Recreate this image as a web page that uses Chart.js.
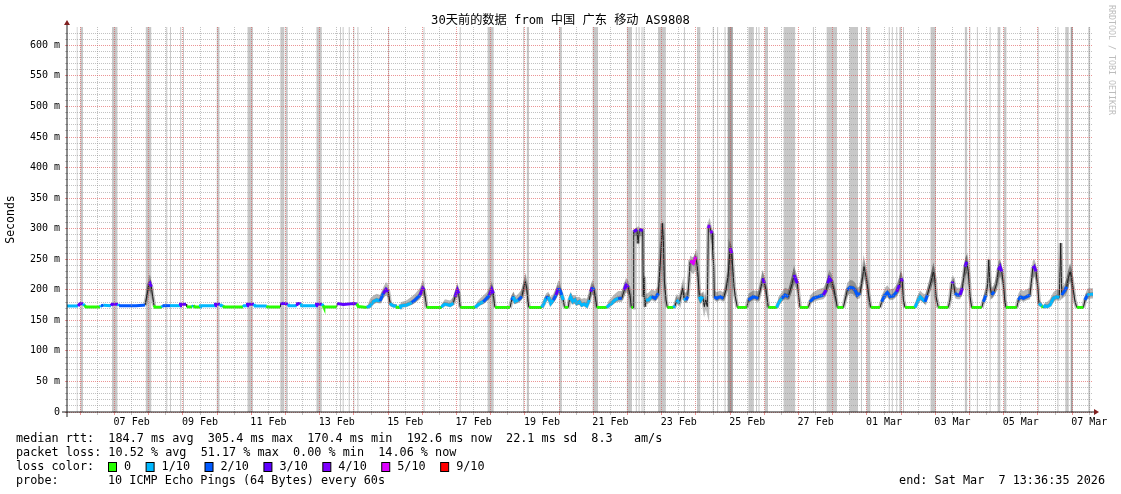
<!DOCTYPE html>
<html>
<head>
<meta charset="utf-8">
<script src="https://cdn.jsdelivr.net/npm/chart.js@4.4.1/dist/chart.umd.min.js"></script>
<style>
  html, body { margin: 0; padding: 0; background: #fff; }
</style>
</head>
<body>
<canvas id="smoke" width="1121" height="494"></canvas>
<script>
const MONO = "'DejaVu Sans Mono', 'Noto Sans CJK SC', monospace";

const titleText = '30天前的数据 from 中国 广东 移动 AS9808';

// x is in days counted from Feb 6 00:00 (graph runs Feb 5 13:36:35 -> Mar 7 13:36:35)
const startDay = -0.4337;
const endDay = 29.5663;
// rrdtool puts its day lines about an hour before the sample clock used here
const gridShift = -0.044;
const dateLabels = ['07 Feb', '09 Feb', '11 Feb', '13 Feb', '15 Feb', '17 Feb', '19 Feb', '21 Feb',
  '23 Feb', '25 Feb', '27 Feb', '01 Mar', '03 Mar', '05 Mar', '07 Mar'];
const dateLabelDays = [1.5, 3.5, 5.5, 7.5, 9.5, 11.5, 13.5, 15.5, 17.5, 19.5, 21.5, 23.5, 25.5, 27.5, 29.5];

const yMax = 630;
const yLabelValues = [0, 50, 100, 150, 200, 250, 300, 350, 400, 450, 500, 550, 600];
const yTickLabels = ['0', '50 m', '100 m', '150 m', '200 m', '250 m', '300 m', '350 m', '400 m',
  '450 m', '500 m', '550 m', '600 m'];

const lossLevels = [0, 1, 2, 3, 4, 5, 9];
const lossColors = ['#26ff00', '#00b8ff', '#0059ff', '#5e00ff', '#7e00ff', '#dd00ff', '#ff0000'];
const lossLabels = ['0', '1/10', '2/10', '3/10', '4/10', '5/10', '9/10'];

// median rtt: [day, ms, lost pings of 10, smoke below median (ms), smoke above median (ms)]
const medianPts = [
  [-0.433,173.5,1,0,0],[-0.111,173.5,1,0,0],[-0.053,177.5,3,0,1],[0.035,177,3,0,1],[0.079,174,1,0,0],
  [0.123,172,0,0,0],[0.532,172,0,0,0],[0.561,174,1,0,0],[0.635,174.5,2,0,0],[0.854,174,1,0,0],
  [0.883,176.5,3,0,1],[1.058,176.5,3,0,1],[1.088,174,1,0,0],[1.585,174,2,0,0],[1.789,174.5,2,0,1],
  [1.848,175,2,1,3],[1.915,194,3,8,12],[1.956,208,3,10,14],[1.994,210.5,3,12,14],[2.032,205,3,14,10],
  [2.073,189,2,10,6],[2.111,174.5,1,2,3],[2.140,171.5,0,0,0],[2.336,171.5,0,0,0],[2.360,174,1,0,0],
  [2.579,174,2,0,0],[2.871,174,1,0,0],[2.886,176.5,3,0,1],[3.047,176.5,3,0,1],[3.067,172,0,0,0],
  [3.222,172,0,0,0],[3.266,174,1,0,0],[3.310,172,0,0,0],[3.456,172,0,0,0],[3.471,174,1,0,0],
  [3.895,174,1,0,0],[3.909,176.5,3,0,1],[4.041,176.5,3,0,1],[4.070,174,1,0,0],[4.137,174,1,0,0],
  [4.158,172,0,0,0],[4.713,172,0,0,0],[4.743,174,1,0,0],[4.830,174,1,0,0],[4.845,176.5,3,0,1],
  [5.035,176.5,3,0,1],[5.064,173.5,1,0,0],[5.406,173.5,1,0,0],[5.430,172,0,0,0],[5.795,172,0,0,0],
  [5.810,177,3,0,1],[5.883,178,3,0,1],[6.029,176.5,3,0,1],[6.058,174,1,0,0],[6.284,174,1,0,0],
  [6.307,177.5,3,0,1],[6.401,177.5,3,0,1],[6.424,174,1,0,0],[6.848,174,1,0,0],[6.863,176.5,3,0,1],
  [7.015,176.5,3,0,1],[7.061,174,1,0,0],[7.076,172,0,0,0],[7.453,172,0,0,0],[7.471,177.5,3,0,1],
  [7.646,176,3,0,1],[7.939,177.5,3,0,1],[8.038,177,3,0,1],[8.085,172.5,0,0,0],[8.330,171,0,0,0],
  [8.427,173.5,1,1,12],[8.523,180.5,1,4,10],[8.623,183.3,1,5,10],[8.719,181.6,1,4,10],[8.816,194,2,8,10],
  [8.895,200.7,3,10,12],[8.962,197,3,10,10],[9.012,178,1,4,6],[9.061,175,1,2,4],[9.129,173.5,1,1,3],
  [9.208,173.5,1,1,2],[9.225,171,0,0,0],[9.304,171,0,0,0],[9.319,173.5,1,1,6],[9.500,175,1,2,8],
  [9.646,179,1,4,10],[9.743,183.3,2,5,10],[9.889,191.5,2,7,12],[9.968,202.4,3,10,14],[10.006,199.6,3,10,12],
  [10.050,185,1,6,8],[10.079,171,0,0,0],[10.523,171,0,0,0],[10.541,173.5,1,1,5],[10.620,176.7,1,2,8],
  [10.766,174.5,1,2,8],[10.863,178,1,3,10],[10.912,188.7,2,6,10],[10.980,199.6,3,10,12],[11.020,194.2,3,8,10],
  [11.044,180,1,5,6],[11.067,171,0,0,0],[11.497,171,0,0,0],[11.547,173.5,1,1,6],[11.643,177.8,1,3,8],
  [11.740,180.5,1,4,10],[11.839,186,2,5,10],[11.915,191.5,2,7,12],[11.985,200.7,3,10,13],[12.032,194.2,3,8,10],
  [12.061,178,1,4,6],[12.082,171,0,0,0],[12.520,171,0,0,0],[12.570,183.3,1,4,8],[12.617,188.7,2,6,8],
  [12.667,180.5,1,4,8],[12.763,183.3,1,5,10],[12.863,188.7,2,6,12],[12.930,205,3,10,12],[12.968,213.3,3,12,12],
  [13.009,202.4,3,10,10],[13.047,180,1,5,6],[13.076,171,0,0,0],[13.447,171,0,0,0],[13.515,177.8,1,3,8],
  [13.573,186,1,5,8],[13.640,188.7,2,6,8],[13.711,177.8,1,3,10],[13.787,183.3,1,5,10],[13.865,191.5,2,7,12],
  [13.933,202.4,3,10,13],[13.982,199.6,2,10,12],[14.032,191.5,2,8,8],[14.079,183.3,1,6,5],[14.114,171,0,0,0],
  [14.225,171,0,0,0],[14.254,183.3,1,5,8],[14.295,188.7,1,8,6],[14.354,180.5,1,5,10],[14.421,183.3,1,6,8],
  [14.471,177.8,1,4,10],[14.547,180.5,1,5,8],[14.617,175,1,3,10],[14.684,176.7,1,3,10],[14.763,173.5,1,2,12],
  [14.839,183.3,1,5,12],[14.880,197,2,10,12],[14.927,204,3,12,12],[14.977,199.6,2,10,10],[15.015,188.7,1,8,6],
  [15.056,171,0,0,0],[15.348,171,0,0,0],[15.395,173.5,1,1,8],[15.494,177.8,1,3,10],[15.591,183.3,1,5,10],
  [15.687,186,1,6,12],[15.787,186,2,6,12],[15.863,199.6,2,10,12],[15.912,207.8,3,12,12],[15.980,204,3,12,10],
  [16.029,191.5,2,8,8],[16.067,171,0,0,0],[16.117,171,0,0,0],[16.137,295,3,8,4],[16.234,298.5,3,10,3],
  [16.263,276,3,6,6],[16.301,298.5,3,10,3],[16.401,297,3,10,3],[16.418,188.7,1,6,10],[16.439,221.4,1,10,10],
  [16.468,172.4,1,2,10],[16.497,183.3,1,6,10],[16.564,183.3,1,6,12],[16.664,188.7,1,6,12],[16.760,186,2,6,12],
  [16.857,194.2,2,8,12],[16.936,265,3,15,15],[16.974,308.7,3,20,8],[17.003,281.5,3,15,10],[17.032,216,3,12,12],
  [17.082,183.3,1,6,8],[17.120,171,0,0,0],[17.295,171,0,0,0],[17.345,173.5,1,1,8],[17.395,183.3,1,5,10],
  [17.471,177.8,1,3,10],[17.512,188.7,1,6,10],[17.570,202.4,2,10,8],[17.608,186,1,6,10],[17.667,183.3,1,5,12],
  [17.716,188.7,2,6,12],[17.754,216,3,10,12],[17.784,246,5,15,10],[17.833,246,5,18,8],[17.880,243.3,5,18,10],
  [17.950,254.2,5,22,8],[17.997,237.8,4,18,8],[18.026,216,3,12,8],[18.056,188.7,1,6,8],[18.096,183.3,1,5,10],
  [18.155,188.7,1,6,8],[18.202,172.4,1,2,10],[18.243,183.3,1,5,8],[18.289,172.4,0,0,4],[18.319,300.6,4,8,5],
  [18.348,306,4,10,5],[18.389,296.7,9,15,5],[18.427,292.4,4,20,5],[18.447,265,3,15,8],[18.477,237.8,3,12,8],
  [18.494,188.7,2,6,10],[18.564,186,2,6,10],[18.661,188.7,2,6,10],[18.757,186,2,6,10],[18.836,199.6,3,8,12],
  [18.904,226.9,3,12,14],[18.953,267.8,4,18,12],[19.003,259.6,4,18,10],[19.032,237.8,3,14,10],[19.070,205,2,10,8],
  [19.108,188.7,1,6,6],[19.167,171,0,0,0],[19.442,171,0,0,0],[19.488,183.3,2,5,10],[19.635,188.7,2,6,10],
  [19.781,186,2,6,12],[19.860,205,3,10,12],[19.909,218.7,3,12,14],[19.956,210.5,3,12,12],[20.006,199.6,2,10,10],
  [20.044,183.3,1,6,6],[20.073,171,0,0,0],[20.319,171,0,0,0],[20.365,177.8,1,3,10],[20.465,186,1,6,10],
  [20.561,191.5,2,7,12],[20.658,188.7,2,6,12],[20.757,207.8,3,12,14],[20.825,224.2,3,14,16],[20.863,218.7,3,14,14],
  [20.921,210.5,3,12,12],[20.962,188.7,1,8,8],[21.000,171,0,0,0],[21.243,171,0,0,0],[21.292,180.5,2,4,10],
  [21.389,186,2,6,10],[21.535,188.7,2,6,12],[21.681,191.5,2,7,12],[21.760,199.6,3,10,12],[21.810,210.5,3,12,14],
  [21.857,218.7,3,14,14],[21.927,213.3,3,12,12],[21.994,199.6,2,10,10],[22.053,183.3,1,6,6],[22.091,171,0,0,0],
  [22.266,171,0,0,0],[22.316,183.3,2,5,12],[22.383,199.6,2,10,12],[22.462,204,2,10,12],[22.541,203,2,10,12],
  [22.608,199.6,2,10,12],[22.675,191.5,2,7,12],[22.754,194.2,2,8,12],[22.833,221.4,3,14,14],[22.871,237.8,3,16,12],
  [22.930,221.4,3,14,12],[22.968,207.8,2,12,10],[23.026,183.3,1,6,6],[23.067,171,0,0,0],[23.339,171,0,0,0],
  [23.389,180.5,2,4,10],[23.485,191.5,2,7,12],[23.553,195.3,2,8,12],[23.632,188.7,2,6,12],[23.728,189.8,2,6,12],
  [23.828,196.9,2,8,12],[23.904,207.8,3,12,14],[23.953,218.7,3,14,14],[23.991,213.3,3,12,12],[24.021,183.3,1,6,6],
  [24.070,171,0,0,0],[24.363,171,0,0,0],[24.412,177.8,1,3,10],[24.509,188.7,1,6,10],[24.588,184.4,1,5,10],
  [24.655,180.5,1,4,12],[24.722,191.5,2,7,12],[24.830,213.3,3,12,14],[24.898,229.7,3,15,14],[24.947,216,3,12,12],
  [24.977,188.7,1,8,8],[25.044,171,0,0,0],[25.336,171,0,0,0],[25.386,183.3,2,5,10],[25.436,210.5,2,12,10],
  [25.482,213.3,3,12,10],[25.532,194.2,2,8,12],[25.599,191.5,2,7,12],[25.678,191.5,2,7,12],[25.746,202.4,3,10,14],
  [25.825,237.8,3,16,14],[25.874,246,3,18,12],[25.921,229.7,3,15,12],[25.971,188.7,1,8,8],[26.020,171,0,0,0],
  [26.313,171,0,0,0],[26.360,180.5,2,4,10],[26.439,191.5,2,7,12],[26.488,210.5,2,10,10],[26.518,249,2,12,8],
  [26.556,205,2,10,10],[26.605,191.5,2,7,12],[26.673,196.9,2,8,12],[26.751,210.5,3,12,14],[26.798,232.3,3,15,14],
  [26.848,237.8,3,16,12],[26.898,229.7,3,14,12],[26.944,210.5,3,12,10],[26.985,183.3,1,6,6],[27.023,171,0,0,0],
  [27.336,171,0,0,0],[27.383,183.3,2,5,10],[27.453,188.7,2,6,12],[27.529,186,2,6,12],[27.629,188.7,2,6,12],
  [27.725,191.5,2,7,12],[27.804,235.1,3,16,12],[27.851,237.8,3,16,12],[27.901,229.7,3,14,12],[27.950,205,2,10,10],
  [27.988,177.8,1,4,6],[28.067,173.5,1,1,5],[28.114,171,0,0,0],[28.164,173.5,1,1,6],[28.231,172.4,1,1,8],
  [28.310,175,1,2,10],[28.406,186,1,6,10],[28.506,188.7,1,6,12],[28.582,187.6,1,6,12],[28.623,276.4,1,10,8],
  [28.652,191.5,1,7,12],[28.749,199.6,2,10,12],[28.798,205,2,10,14],[28.845,218.7,3,14,14],[28.895,229.7,3,15,14],
  [28.944,218.7,3,14,12],[28.991,199.6,2,10,10],[29.032,183.3,1,6,6],[29.091,171,0,0,0],[29.284,171,0,0,0],
  [29.333,183.3,1,5,8],[29.401,191.5,2,7,10],[29.459,192.4,1,7,10],[29.567,192.6,1,7,10]
];

// full height grey columns: [from day, to day]
const greyColumns = [
  [-0.155,-0.126],[-0.044,0.035],[0.883,1.041],[1.871,2.029],[2.468,2.497],[2.579,2.608],[2.877,2.906],
  [2.959,2.988],[3.944,4.023],[4.845,5.003],[5.804,5.921],[5.959,6.018],[6.860,7.015],[7.550,7.579],
  [7.626,7.655],[7.804,7.833],[7.939,7.968],[8.058,8.088],[8.956,8.985],[9.991,10.020],[11.050,11.079],
  [11.865,12.041],[12.906,12.936],[13.012,13.076],[13.956,14.035],[14.936,15.094],[15.936,16.085],
  [16.199,16.228],[16.278,16.307],[16.366,16.395],[16.424,16.453],[16.848,17.076],[17.605,17.635],
  [17.988,18.085],[18.447,18.477],[18.576,18.605],[18.792,18.822],[19.491,19.649],[19.713,19.743],
  [19.784,19.813],[19.965,20.064],[20.520,20.857],[21.377,21.406],[21.778,22.082],[22.442,22.696],
  [22.781,22.810],[22.944,23.055],[23.593,23.623],[23.684,23.713],[23.813,23.842],[23.906,23.965],
  [24.012,24.041],[24.816,24.974],[25.819,25.886],[25.950,25.980],[26.170,26.199],[26.544,26.573],
  [26.778,26.857],[26.956,27.035],[27.950,27.980],[28.526,28.556],[28.757,28.857],[29.430,29.488]
];
const darkColumns = [[18.877,19.035],[28.915,28.977]];

const statsRows = [
  'median rtt:  184.7 ms avg  305.4 ms max  170.4 ms min  192.6 ms now  22.1 ms sd  8.3   am/s',
  'packet loss: 10.52 % avg  51.17 % max  0.00 % min  14.06 % now'
];
const lossTitle = 'loss color:';
const probeTitle = 'probe:';
const probeText = '10 ICMP Echo Pings (64 Bytes) every 60s';
const endText = 'end: Sat Mar  7 13:36:35 2026';
const watermark = 'RRDTOOL / TOBI OETIKER';

// rrdtool's stock grid / major grid / arrow / axis colours
const GRID_MINOR = 'rgba(143,143,143,0.55)';
const GRID_MAJOR = 'rgba(222,79,79,0.6)';
const ARROW = '#801f1f';
const AXIS = '#1f1f1f';

function lossColor(level) {
  const i = lossLevels.indexOf(level);
  return i < 0 ? '#000' : lossColors[i];
}

function columnPath(list) {
  const pts = [];
  list.forEach(([a, b]) => {
    pts.push({x: a, y: 0}, {x: a, y: yMax}, {x: b, y: yMax}, {x: b, y: 0});
  });
  return pts;
}

const medianData = medianPts.map(r => ({x: r[0], y: r[1]}));
const smokeLowData = medianPts.map(r => ({x: r[0], y: r[1] - r[3]}));
const smokeHighData = medianPts.map(r => ({x: r[0], y: r[1] + r[4]}));

const spreadAt = i => medianPts[i][3] + medianPts[i][4];

// title, axes with arrows, legend rows and the side credit
const decorations = {
  id: 'decorations',
  afterDraw(chart) {
    const {ctx, chartArea} = chart;
    const left = Math.round(chartArea.left);
    const bottom = Math.round(chartArea.bottom);
    const right = chartArea.right;
    ctx.save();
    ctx.fillStyle = '#000';
    ctx.font = "12.2px 'DejaVu Sans Mono', 'Noto Sans CJK SC'";
    ctx.textAlign = 'center';
    ctx.textBaseline = 'middle';
    ctx.fillText(titleText, 560.5, 21);

    ctx.strokeStyle = AXIS;
    ctx.lineWidth = 1;
    ctx.beginPath();
    ctx.moveTo(left, bottom + 5);
    ctx.lineTo(left, chartArea.top - 4);
    ctx.moveTo(left - 5, bottom);
    ctx.lineTo(right + 3, bottom);
    ctx.stroke();
    ctx.fillStyle = ARROW;
    ctx.beginPath();
    ctx.moveTo(left - 3, chartArea.top - 2);
    ctx.lineTo(left + 3, chartArea.top - 2);
    ctx.lineTo(left, chartArea.top - 7);
    ctx.closePath();
    ctx.fill();
    ctx.beginPath();
    ctx.moveTo(right + 1, bottom - 3);
    ctx.lineTo(right + 1, bottom + 3);
    ctx.lineTo(right + 6, bottom);
    ctx.closePath();
    ctx.fill();

    ctx.fillStyle = '#000';
    ctx.font = "11.8px 'DejaVu Sans Mono'";
    ctx.textAlign = 'left';
    const x0 = 16;
    ctx.fillText(statsRows[0], x0, 439);
    ctx.fillText(statsRows[1], x0, 453);
    ctx.fillText(lossTitle, x0, 467);
    let bx = 108;
    lossLabels.forEach((label, i) => {
      ctx.fillStyle = lossColors[i];
      ctx.fillRect(bx + 0.5, 462.5, 8, 9);
      ctx.strokeStyle = '#000';
      ctx.strokeRect(bx + 0.5, 462.5, 8, 9);
      ctx.fillStyle = '#000';
      ctx.fillText(label, bx + 16, 467);
      bx += 16 + ctx.measureText(label).width + 14.5;
    });
    ctx.fillText(probeTitle, x0, 481);
    ctx.fillText(probeText, 108, 481);
    ctx.textAlign = 'right';
    ctx.fillText(endText, 1105, 481);

    ctx.translate(1111, 5);
    ctx.rotate(Math.PI / 2);
    ctx.textAlign = 'left';
    ctx.fillStyle = '#bdbdbd';
    ctx.font = "8.3px 'DejaVu Sans Mono'";
    ctx.fillText(watermark, 0, 0);
    ctx.restore();
  }
};

Chart.defaults.font.family = MONO;
Chart.defaults.color = '#000';

new Chart(document.getElementById('smoke'), {
  type: 'line',
  data: {
    datasets: [
      {
        // loss coloured median
        data: medianData,
        order: 1,
        borderWidth: 3,
        borderColor: '#00b8ff',
        pointRadius: 0,
        segment: {
          borderColor: c => {
            const a = c.p0, b = c.p1;
            if (Math.abs(b.y - a.y) > 2.5 * Math.abs(b.x - a.x) + 1) return 'transparent';
            return lossColor(medianPts[c.p1DataIndex][2]);
          }
        }
      },
      {
        data: medianData,
        order: 2,
        borderWidth: 1,
        borderColor: '#1e1e1e',
        pointRadius: 0
      },
      {
        // dark core of the smoke
        data: medianData,
        order: 3,
        borderWidth: 4,
        borderColor: 'rgba(0,0,0,0.25)',
        pointRadius: 0,
        segment: {
          borderColor: c => (spreadAt(c.p0DataIndex) + spreadAt(c.p1DataIndex) > 6 ? 'rgba(0,0,0,0.25)' : 'transparent')
        }
      },
      {
        data: smokeLowData,
        order: 4,
        borderWidth: 0,
        pointRadius: 0,
        fill: false
      },
      {
        data: smokeHighData,
        order: 4,
        borderWidth: 0,
        pointRadius: 0,
        fill: '-1',
        backgroundColor: 'rgba(0,0,0,0.28)'
      },
      {
        data: columnPath(darkColumns),
        order: 5,
        borderWidth: 0,
        pointRadius: 0,
        fill: 'origin',
        backgroundColor: 'rgb(160,160,160)'
      },
      {
        data: columnPath(greyColumns),
        order: 6,
        borderWidth: 0,
        pointRadius: 0,
        fill: 'origin',
        backgroundColor: 'rgb(200,200,200)'
      }
    ]
  },
  options: {
    responsive: false,
    animation: false,
    events: [],
    layout: { padding: { left: 0, right: 28, top: 27, bottom: 0 } },
    elements: { line: { tension: 0 } },
    plugins: {
      legend: { display: false },
      tooltip: { enabled: false },
      title: { display: false }
    },
    scales: {
      x: {
        type: 'linear',
        min: startDay,
        max: endDay,
        afterBuildTicks: scale => {
          const ticks = [];
          for (let k = 0; k <= 59; k++) ticks.push({ value: k / 2 + gridShift });
          scale.ticks = ticks;
        },
        afterFit: scale => { scale.height = 82; },
        grid: {
          z: 1,
          color: c => (c.index % 2 === 0 ? GRID_MAJOR : GRID_MINOR),
          drawTicks: true,
          tickLength: 3,
          tickColor: c => (c.index % 2 === 0 ? GRID_MAJOR : GRID_MINOR)
        },
        border: { display: false, dash: [1, 1] },
        ticks: {
          autoSkip: false,
          maxRotation: 0,
          padding: 1,
          font: { family: MONO, size: 10 },
          color: '#000',
          callback: (value, index) => {
            const i = dateLabelDays.indexOf(index / 2);
            return i >= 0 ? dateLabels[i] : '';
          }
        }
      },
      y: {
        type: 'linear',
        min: 0,
        max: yMax,
        afterBuildTicks: scale => {
          const ticks = [];
          for (let v = 0; v < yMax; v += 10) ticks.push({ value: v });
          scale.ticks = ticks;
        },
        afterFit: scale => { scale.width = 67; },
        grid: {
          z: 1,
          color: c => (c.tick.value % 50 === 0 ? GRID_MAJOR : GRID_MINOR),
          drawTicks: true,
          tickLength: 2,
          tickColor: c => (c.tick.value % 50 === 0 ? GRID_MAJOR : GRID_MINOR)
        },
        border: { display: false, dash: [1, 1] },
        title: {
          display: true,
          text: 'Seconds',
          color: '#000',
          font: { family: MONO, size: 11.5 },
          padding: { top: 4, bottom: 0 }
        },
        ticks: {
          autoSkip: false,
          padding: 5,
          font: { family: MONO, size: 10 },
          color: '#000',
          callback: value => {
            const i = yLabelValues.indexOf(value);
            return i >= 0 ? yTickLabels[i] : '';
          }
        }
      }
    }
  },
  plugins: [decorations]
});
</script>
</body>
</html>
